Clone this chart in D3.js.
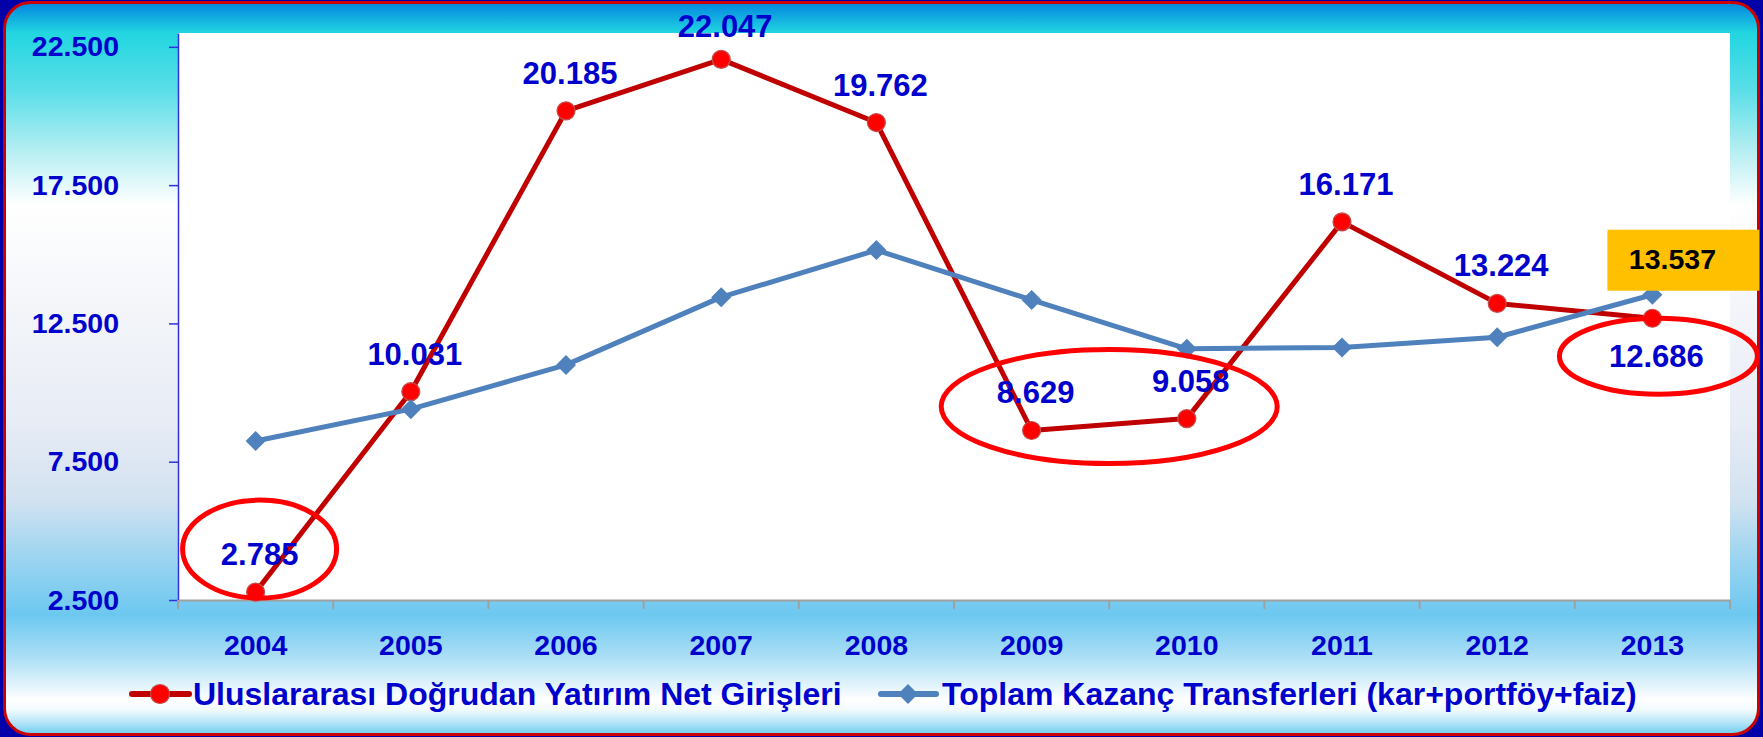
<!DOCTYPE html>
<html>
<head>
<meta charset="utf-8">
<script src="https://cdn.jsdelivr.net/npm/d3@7"></script>
<style>
  html, body { margin: 0; padding: 0; background: #0000a8; }
  svg { display: block; font-family: 'Liberation Sans', Arial, sans-serif; font-weight: bold; }
</style>
</head>
<body>
<div id="chart"></div>
<script>
const years = ['2004', '2005', '2006', '2007', '2008', '2009', '2010', '2011', '2012', '2013'];
const fdiValues = [2785, 10031, 20185, 22047, 19762, 8629, 9058, 16171, 13224, 12686];
const transferValues = [8250, 9400, 11000, 13450, 15150, 13350, 11580, 11630, 12000, 13537];
const yTicks = [2500, 7500, 12500, 17500, 22500];
const seriesNames = ['Uluslararası Doğrudan Yatırım Net Girişleri', 'Toplam Kazanç Transferleri (kar+portföy+faiz)'];
// years circled on the chart
const circledGroups = [['2004'], ['2009', '2010'], ['2013']];

const W = 1763;
const H = 737;
const m = { t: 33, r: 33, b: 137, l: 178 };
const TEXT = '#0000cc';
const RED = '#c00000';
const BLUE = '#4f81bd';

const fmt = d3.formatLocale({ decimal: ',', thousands: '.', grouping: [3], currency: ['', ''] }).format(',');

const svg = d3.select('#chart').append('svg').attr('width', W).attr('height', H);

// background gradient
const defs = svg.append('defs');
const grad = defs.append('linearGradient').attr('id', 'bg').attr('gradientUnits', 'userSpaceOnUse')
  .attr('x1', 0).attr('y1', 0).attr('x2', 0).attr('y2', H);
[
  [0, '#0080d8'], [10, '#0a98e0'], [33, '#22d6e0'], [90, '#5adee8'], [150, '#b4eef2'],
  [205, '#ffffff'], [300, '#f4f6fa'], [420, '#e8ecf5'], [500, '#d2e2f0'], [560, '#9ad4f0'],
  [615, '#6cc8f0'], [660, '#b0e0f6'], [700, '#ffffff'], [710, '#f0fafe'], [722, '#b8e6f8'], [734, '#70ccf0'],
].forEach(([o, c]) => grad.append('stop').attr('offset', o / H).attr('stop-color', c));

svg.append('rect').attr('x', 4.5).attr('y', 2.5).attr('width', W - 9).attr('height', H - 5)
  .attr('rx', 26).attr('fill', 'url(#bg)').attr('stroke', '#cc0000').attr('stroke-width', 3);

const x = d3.scaleBand().domain(years).range([m.l, W - m.r]).padding(0);
const cx = (d) => x(d) + x.bandwidth() / 2;
const y = d3.scaleLinear().domain([2500, 23000]).range([H - m.b, m.t]);

// plot area
svg.append('rect').attr('x', m.l).attr('y', m.t).attr('width', W - m.r - m.l).attr('height', H - m.b - m.t).attr('fill', '#fff');

// y axis
const yAxis = svg.append('g').attr('transform', `translate(${m.l},0)`)
  .call(d3.axisLeft(y).tickValues(yTicks).tickSize(9).tickSizeOuter(0).tickPadding(50).tickFormat(fmt));
yAxis.select('.domain').attr('stroke', '#3030e0').attr('stroke-width', 1.5);
yAxis.selectAll('.tick line').attr('stroke', '#3030e0').attr('stroke-width', 1.5);
yAxis.selectAll('text').attr('fill', TEXT).style('font-size', '28.5px').style('font-weight', 'bold').style('font-family', 'inherit');

// x axis
const xAxis = svg.append('g').attr('transform', `translate(0,${H - m.b})`)
  .call(d3.axisBottom(x).tickSize(0).tickPadding(35));
xAxis.select('.domain').attr('stroke', '#a0a0a0').attr('stroke-width', 2);
xAxis.selectAll('text').attr('fill', TEXT).style('font-size', '28.5px').style('font-weight', 'bold').style('font-family', 'inherit');
svg.append('g').selectAll('line')
  .data(years.concat(['end']))
  .join('line')
  .attr('x1', (d) => (d === 'end' ? x.range()[1] : x(d)))
  .attr('x2', (d) => (d === 'end' ? x.range()[1] : x(d)))
  .attr('y1', H - m.b)
  .attr('y2', H - m.b + 9)
  .attr('stroke', '#a0a0a0')
  .attr('stroke-width', 2);

const line = d3.line().x((d, i) => cx(years[i])).y((d) => y(d));

// red series
svg.append('path').datum(fdiValues).attr('fill', 'none').attr('stroke', RED).attr('stroke-width', 5)
  .attr('stroke-linejoin', 'round').attr('d', line);
svg.append('g').selectAll('circle').data(fdiValues).join('circle')
  .attr('cx', (d, i) => cx(years[i])).attr('cy', (d) => y(d)).attr('r', 9)
  .attr('fill', '#ff0000').attr('stroke', '#c0504d').attr('stroke-width', 1.2);

// blue series
svg.append('path').datum(transferValues).attr('fill', 'none').attr('stroke', BLUE).attr('stroke-width', 5)
  .attr('stroke-linejoin', 'round').attr('d', line);
const diamond = d3.symbol(d3.symbolSquare, 200);
svg.append('g').selectAll('path').data(transferValues).join('path')
  .attr('d', diamond)
  .attr('transform', (d, i) => `translate(${cx(years[i])},${y(d)}) rotate(45)`)
  .attr('fill', BLUE);

// data labels of the red series
const last = years.length - 1;
svg.append('g').selectAll('text').data(fdiValues).join('text')
  .attr('x', (d, i) => cx(years[i]) + 4)
  .attr('y', (d, i) => (i === last ? y(d) + 49 : Math.max(y(d) - 27, 37)))
  .attr('text-anchor', 'middle')
  .attr('fill', TEXT)
  .style('font-size', '31px')
  .text(fmt);

// highlight ellipses
svg.append('g').selectAll('ellipse').data(circledGroups).join('ellipse')
  .attr('cx', (g) => {
    if (g.length > 1) return (cx(g[0]) + cx(g[g.length - 1])) / 2;
    return cx(g[0]) + (g[0] === years[last] ? 6 : 4);
  })
  .attr('cy', (g) => {
    const vals = g.map((k) => y(fdiValues[years.indexOf(k)]));
    const mid = d3.mean(vals);
    if (g.length > 1) return mid - 18;
    return g[0] === years[last] ? mid + 38 : mid - 43;
  })
  .attr('rx', (g) => (g.length > 1 ? 168 : g[0] === years[last] ? 99 : 77))
  .attr('ry', (g) => (g.length > 1 ? 57 : g[0] === years[last] ? 38 : 49))
  .attr('fill', 'none')
  .attr('stroke', '#ff0000')
  .attr('stroke-width', 5);

// last transfer value in an orange box
const bx = cx(years[last]);
const by = y(transferValues[last]);
svg.append('rect').attr('x', bx - 45).attr('y', by - 65).attr('width', 152).attr('height', 61).attr('fill', '#ffc000');
svg.append('text').attr('x', bx + 20).attr('y', by - 26).attr('text-anchor', 'middle')
  .attr('fill', '#000').style('font-size', '28.5px').text(fmt(transferValues[last]));

// legend
const ly = 694;
const leg1 = svg.append('g').attr('transform', `translate(132,${ly})`);
leg1.append('line').attr('x1', 0).attr('x2', 57).attr('stroke', RED).attr('stroke-width', 6).attr('stroke-linecap', 'round');
leg1.append('circle').attr('cx', 28).attr('r', 9.5).attr('fill', '#ff0000').attr('stroke', '#c0504d').attr('stroke-width', 1.2);
leg1.append('text').attr('x', 61).attr('y', 11).attr('fill', TEXT).style('font-size', '32px').text(seriesNames[0]);

const leg2 = svg.append('g').attr('transform', `translate(881,${ly})`);
leg2.append('line').attr('x1', 0).attr('x2', 55).attr('stroke', BLUE).attr('stroke-width', 6).attr('stroke-linecap', 'round');
leg2.append('path').attr('d', diamond).attr('transform', 'translate(27,0) rotate(45)').attr('fill', BLUE);
leg2.append('text').attr('x', 61).attr('y', 11).attr('fill', TEXT).style('font-size', '32px').text(seriesNames[1]);
</script>
</body>
</html>
